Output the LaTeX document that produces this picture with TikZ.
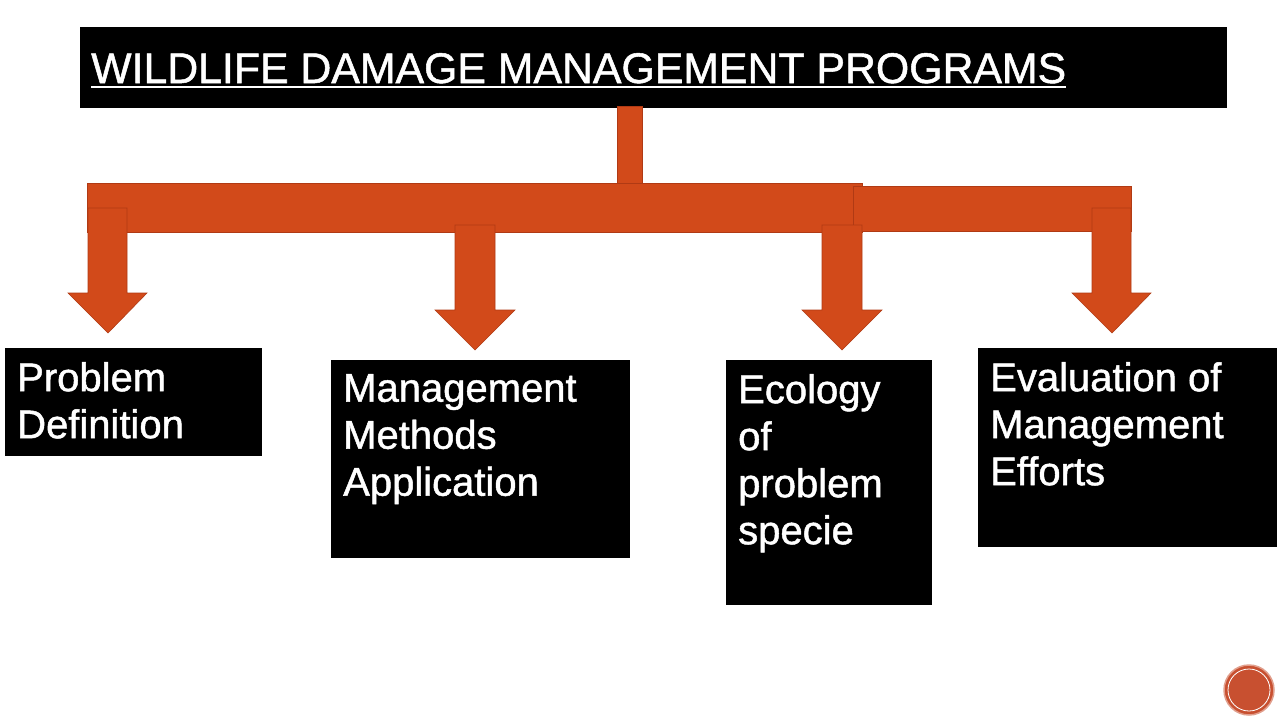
\documentclass[tikz,border=0pt]{standalone}
\usepackage{fontspec}
\setmainfont{Liberation Sans}[FakeBold=1.2]
\usetikzlibrary{positioning}
\definecolor{rust}{RGB}{210,74,26}
\definecolor{rustdark}{RGB}{176,58,20}
\definecolor{badge}{RGB}{200,80,48}

\begin{document}
\begin{tikzpicture}[x=1pt, y=-1pt,
  blackbox/.style={fill=black, draw=none, anchor=north west, inner sep=0pt},
  boxtext/.style={text=white, anchor=north west, align=left, inner sep=0pt, font=\fontsize{40}{47}\selectfont},
  bar/.style={fill=rust, draw=rustdark, line width=0.6pt}]

\fill[white] (0,0) rectangle (1280,720);
\useasboundingbox (0,0) rectangle (1280,720);

% title bar
\node[blackbox, minimum width=1147pt, minimum height=81pt] (title) at (80,27) {};
\node[text=white, anchor=base west, inner sep=0pt, font=\fontsize{42.8}{50}\selectfont] (titletext) at (91,83) {WILDLIFE DAMAGE MANAGEMENT PROGRAMS};
\draw[white, line width=2pt] ([yshift=-4pt]titletext.base west) -- ([yshift=-4pt]titletext.base east);

% stem and cross bars
\filldraw[bar] (617,106) rectangle (642,183);
\filldraw[bar] (87,183) rectangle (862,232);
\filldraw[bar] (853,186) rectangle (1131,231);

% block arrows, drawn from the tip
\coordinate (tip1) at (108,333);
\coordinate (tip2) at (475,350);
\coordinate (tip3) at (842,350);
\coordinate (tip4) at (1112,333);
\filldraw[bar] (tip1) -- ++(-40,-40) -- ++(20,0) -- ++(0,-85) -- ++(39,0) -- ++(0,85) -- ++(20,0) -- cycle;
\filldraw[bar] (tip2) -- ++(-40,-40) -- ++(20,0) -- ++(0,-85) -- ++(40,0) -- ++(0,85) -- ++(20,0) -- cycle;
\filldraw[bar] (tip3) -- ++(-40,-40) -- ++(20,0) -- ++(0,-85) -- ++(40,0) -- ++(0,85) -- ++(20,0) -- cycle;
\filldraw[bar] (tip4) -- ++(-40,-40) -- ++(20,0) -- ++(0,-85) -- ++(39,0) -- ++(0,85) -- ++(20,0) -- cycle;

% boxes
\node[blackbox, minimum width=257pt, minimum height=108pt] (probdef) at (5,348) {};
\node[boxtext, xshift=12pt, yshift=-14pt] (probdeftext) at (probdef.north west) {Problem\\Definition};

\node[blackbox, minimum width=299pt, minimum height=198pt] (methods) at (331,360) {};
\node[boxtext, xshift=12pt, yshift=-14pt] (methodstext) at (methods.north west) {Management\\Methods\\Application};

\node[blackbox, minimum width=206pt, minimum height=245pt] (ecology) at (726,360) {};
\node[boxtext, xshift=12pt, yshift=-14pt] (ecologytext) at (ecology.north west) {Ecology\\of\\problem\\specie};

\node[blackbox, minimum width=299pt, minimum height=199pt] (evaluation) at (978,348) {};
\node[boxtext, xshift=12pt, yshift=-14pt] (evaluationtext) at (evaluation.north west) {Evaluation of\\Management\\Efforts};

% page badge
\node[circle, fill=badge, draw=badge!55, line width=1.5pt, minimum size=50pt, inner sep=0pt] (badge) at (1249,690) {};
\draw[white, line width=0.8pt] (badge.center) circle (21pt);
\end{tikzpicture}
\end{document}
